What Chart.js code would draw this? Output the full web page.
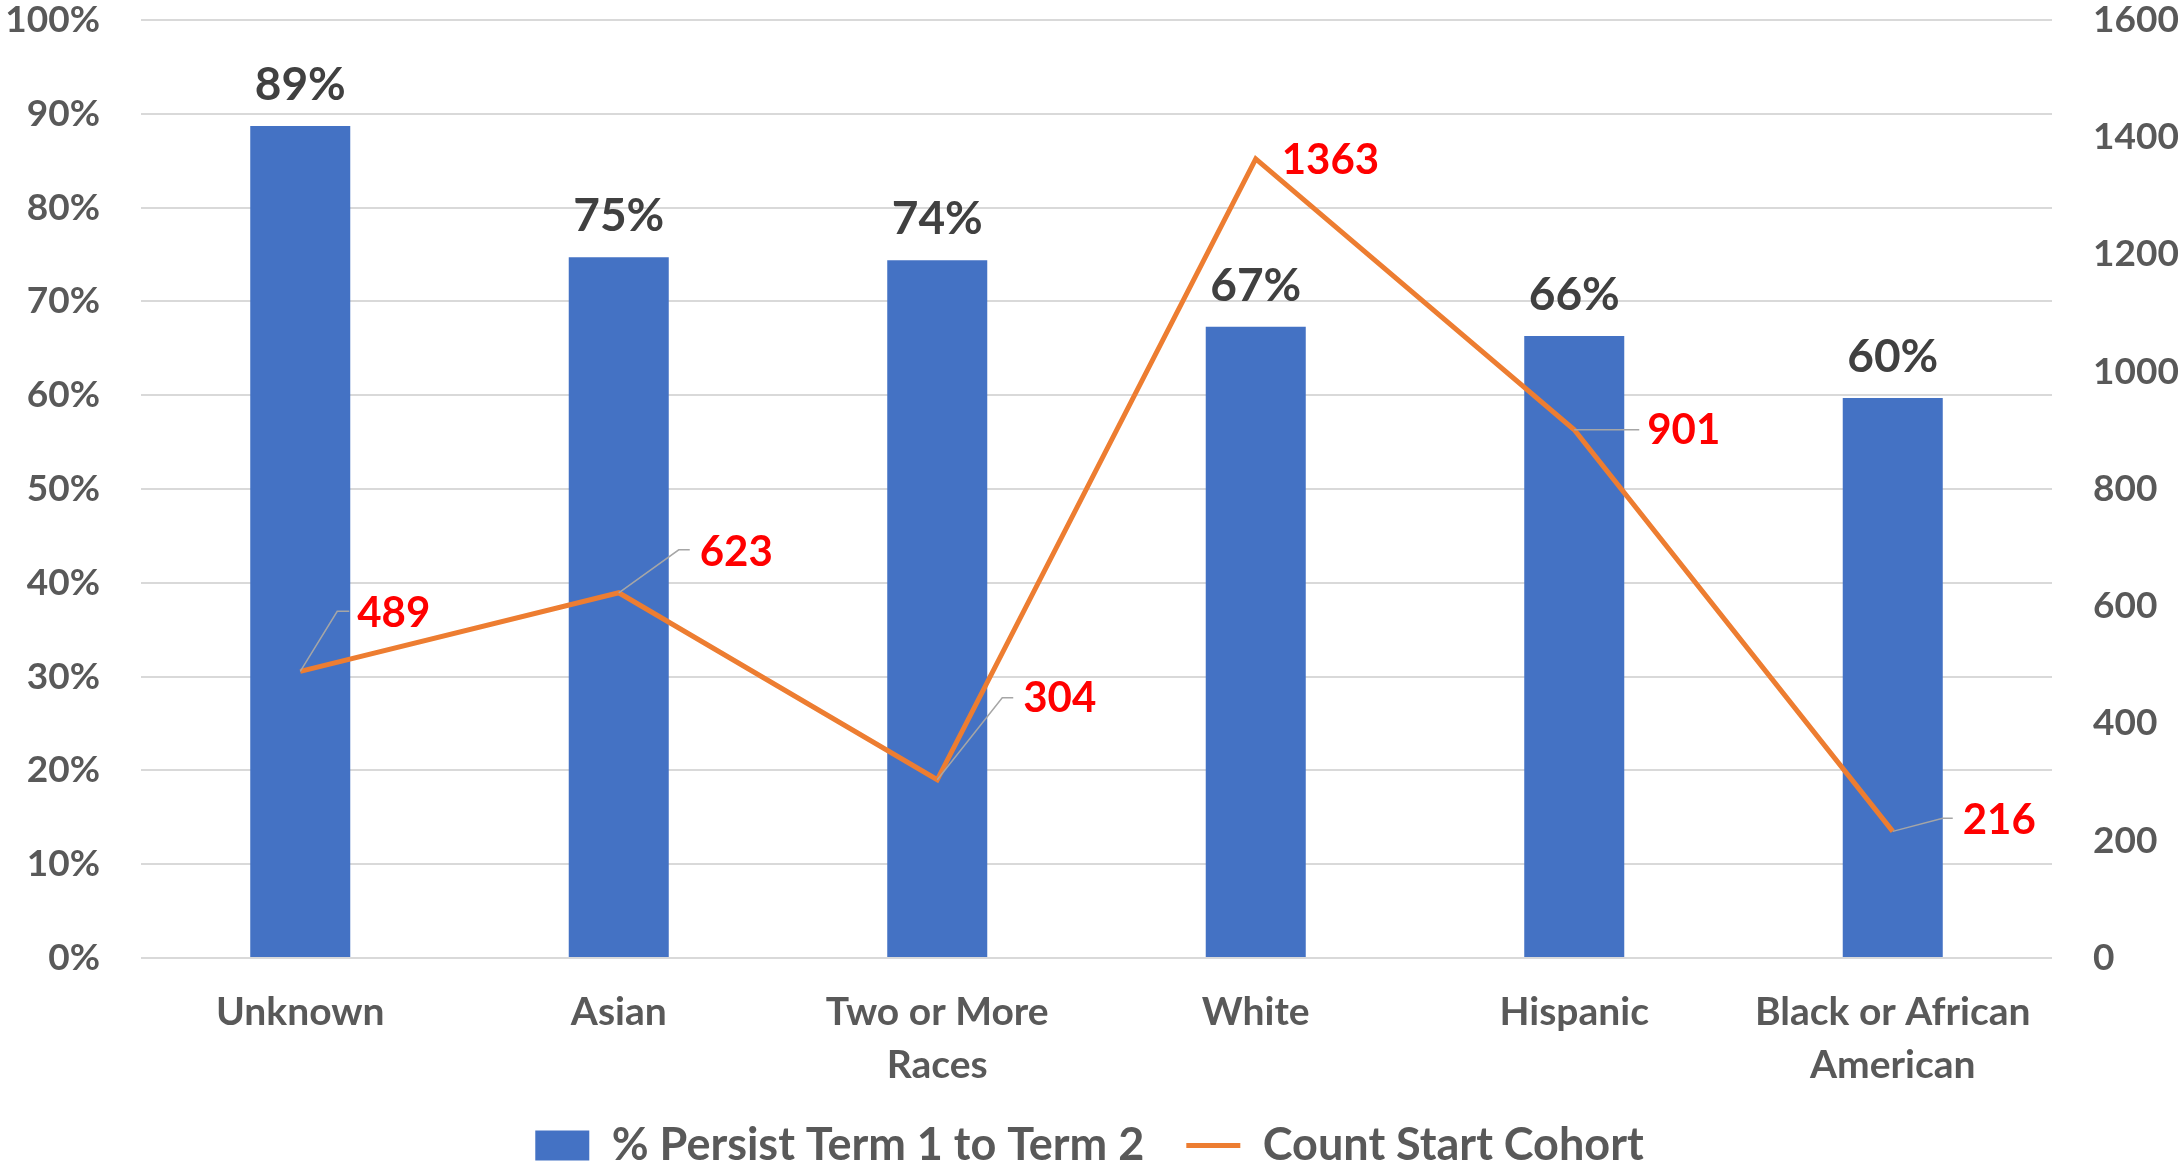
<!DOCTYPE html>
<html>
<head>
<meta charset="utf-8">
<script src="https://cdn.jsdelivr.net/npm/chart.js@4.4.1/dist/chart.umd.min.js"></script>
<style>
  html, body { margin: 0; padding: 0; background: #ffffff; }
  #wrap { width: 2179px; height: 1163px; }
</style>
</head>
<body>
<div id="wrap"><canvas id="persistChart" width="2179" height="1163"></canvas></div>
<script>

// DATA

const categories = [
  "Unknown",
  "Asian",
  ["Two or More", "Races"],
  "White",
  "Hispanic",
  ["Black or African", "American"]
];

const persistPct = [88.7, 74.7, 74.4, 67.3, 66.3, 59.7];

const cohortCount = [489, 623, 304, 1363, 901, 216];

const pctAxis = { min: 0, max: 100, step: 10 };

const countAxis = { min: 0, max: 1600, step: 200 };

const seriesNames = ["% Persist Term 1 to Term 2", "Count Start Cohort"];



// LABEL PLACEMENT FOR THE COUNT LABELS
// [elbowDx, elbowDy, endDx, textDx, textDy], null = no leader line

const countLabelOffsets = [
  [37, -60, 49, 57, -58],
  [60, -43, 71, 81, -40],
  [65, -82, 76, 86, -81],
  null,
  [0, 0, 65, 73, 1],
  [50, -13, 60, 70, -11]
];

const FONT = "Lato, 'Open Sans', sans-serif";

const axisGrey = "#595959";



// DATA LABEL PLUGIN

const labelPlugin = {

  id: "labelPlugin",

  afterDatasetsDraw(chart) {

    const ctx = chart.ctx;

    ctx.save();

    // bar labels
    const barMeta = chart.getDatasetMeta(0);

    ctx.font = "bold 46px " + FONT;
    ctx.fillStyle = "#404040";
    ctx.textAlign = "center";
    ctx.textBaseline = "alphabetic";

    barMeta.data.forEach((bar, i) => {
      ctx.fillText(Math.round(persistPct[i]) + "%", bar.x, bar.y - 26);
    });

    // line labels with leader lines
    const lineMeta = chart.getDatasetMeta(1);

    ctx.font = "bold 42px " + FONT;
    ctx.textAlign = "left";
    ctx.textBaseline = "middle";

    lineMeta.data.forEach((pt, i) => {

      const off = countLabelOffsets[i];

      if (off) {
        ctx.strokeStyle = "#A6A6A6";
        ctx.lineWidth = 1.5;
        ctx.beginPath();
        ctx.moveTo(pt.x, pt.y);
        ctx.lineTo(pt.x + off[0], pt.y + off[1]);
        ctx.lineTo(pt.x + off[2], pt.y + off[1]);
        ctx.stroke();
      }

      const tx = off ? off[3] : 26;
      const ty = off ? off[4] : 2;

      ctx.fillStyle = "#FF0000";
      ctx.fillText(String(cohortCount[i]), pt.x + tx, pt.y + ty);

    });

    ctx.restore();

  }

};



// fixed axis sizes so the plot area sits like the original

function fixVertical(width) {
  return function (scale) {
    scale.width = width;
    scale.paddingTop = 0;
    scale.paddingBottom = 0;
  };
}



// CHART

const persistChart = new Chart(
  document.getElementById("persistChart"),
  {

    type: "bar",

    data: {

      labels: categories,

      datasets: [
        {
          label: seriesNames[0],
          data: persistPct,
          backgroundColor: "#4472C4",
          barPercentage: 0.314,
          categoryPercentage: 1,
          yAxisID: "y",
          order: 2
        },
        {
          type: "line",
          label: seriesNames[1],
          data: cohortCount,
          borderColor: "#ED7D31",
          backgroundColor: "#ED7D31",
          borderWidth: 5,
          pointRadius: 0,
          tension: 0,
          yAxisID: "y1",
          order: 1
        }
      ]
    },

    options: {

      responsive: false,

      devicePixelRatio: 1,

      animation: false,

      layout: {
        padding: { top: 20, bottom: -15, left: 0, right: 0 }
      },

      plugins: {

        tooltip: { enabled: false },

        legend: {

          position: "bottom",

          labels: {
            color: axisGrey,
            font: { family: FONT, size: 45, weight: "bold" },
            usePointStyle: true,
            pointStyleWidth: 54,
            boxHeight: 30,
            padding: 42,
            generateLabels(chart) {
              return chart.data.datasets.map((ds, i) => ({
                text: ds.label,
                fillStyle: ds.backgroundColor,
                strokeStyle: i === 0 ? ds.backgroundColor : ds.borderColor,
                lineWidth: i === 0 ? 0 : 5,
                pointStyle: i === 0 ? "rect" : "line",
                fontColor: axisGrey,
                hidden: false,
                datasetIndex: i
              }));
            }
          }

        }

      },

      scales: {

        x: {
          afterFit(scale) {
            scale.height = 123;
          },
          grid: { display: false },
          border: { display: false },
          ticks: {
            color: axisGrey,
            padding: 20,
            font: { family: FONT, size: 39, weight: "bold", lineHeight: 1.36 }
          }
        },

        y: {
          position: "left",
          min: pctAxis.min,
          max: pctAxis.max,
          afterFit: fixVertical(141),
          grid: { color: "#D9D9D9", lineWidth: 2, drawTicks: false },
          border: { display: false },
          ticks: {
            stepSize: pctAxis.step,
            color: axisGrey,
            padding: 41,
            font: { family: FONT, size: 37, weight: "bold", lineHeight: 1 },
            callback: v => v + "%"
          }
        },

        y1: {
          position: "right",
          min: countAxis.min,
          max: countAxis.max,
          afterFit: fixVertical(127),
          grid: { display: false, drawTicks: false },
          border: { display: false },
          ticks: {
            stepSize: countAxis.step,
            color: axisGrey,
            padding: 41,
            font: { family: FONT, size: 37, weight: "bold", lineHeight: 1 },
            callback: v => String(v)
          }
        }

      }

    },

    plugins: [labelPlugin]

  }
);

</script>
</body>
</html>
